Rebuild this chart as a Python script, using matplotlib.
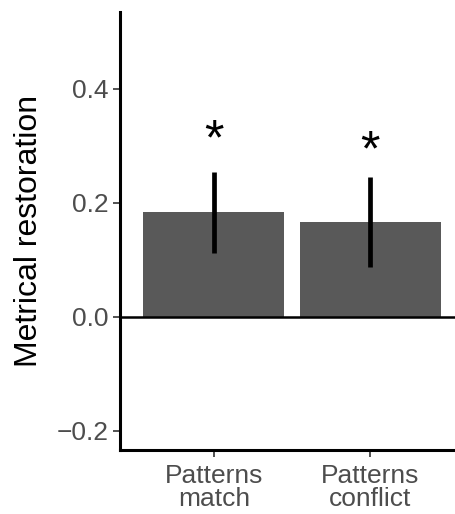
import matplotlib
matplotlib.use("Agg")
import matplotlib.pyplot as plt

categories = ["Patterns\nmatch", "Patterns\nconflict"]
means = [0.184, 0.166]
ci_low = [0.111, 0.087]
ci_high = [0.254, 0.245]
star_y = [0.308, 0.288]
yticks = [-0.2, 0.0, 0.2, 0.4]

plt.rcParams['font.family'] = ['Liberation Sans', 'DejaVu Sans']

W, H = 455, 514
fig = plt.figure(figsize=(W/100, H/100), dpi=100)
left, right = 120, 464
top, bottom = 12, 450
ax = fig.add_axes([left/W, 1 - bottom/H, (right-left)/W, (bottom-top)/H])

x = [1, 2]
ax.bar(x, means, width=0.9, color='#595959', zorder=2)
for xi, lo, hi in zip(x, ci_low, ci_high):
    ax.plot([xi, xi], [lo, hi], color='black', lw=3.4, solid_capstyle='butt', zorder=3)
ax.axhline(0, color='black', lw=1.8, zorder=4)
for xi, sy in zip(x, star_y):
    ax.text(xi, sy, "*", ha='center', va='center', fontsize=36, color='black')

ax.set_xlim(0.4, 2.6)
ax.set_ylim(-0.234, 0.535)
ax.set_xticks(x)
ax.set_xticklabels(categories, fontsize=19, color='#4D4D4D', linespacing=0.95)
ax.set_yticks(yticks)
ax.set_yticklabels(["\u22120.2", "0.0", "0.2", "0.4"], fontsize=19, color='#4D4D4D')
ax.set_ylabel("Metrical restoration", fontsize=23, color='black', labelpad=9)

for s in ['top', 'right']:
    ax.spines[s].set_visible(False)
for s in ['left', 'bottom']:
    ax.spines[s].set_linewidth(2.2)
    ax.spines[s].set_color('black')
ax.tick_params(axis='both', length=5, width=1.2, color='#333333', pad=3)
ax.tick_params(axis='x', pad=5)

fig.savefig("out.png", dpi=100)
